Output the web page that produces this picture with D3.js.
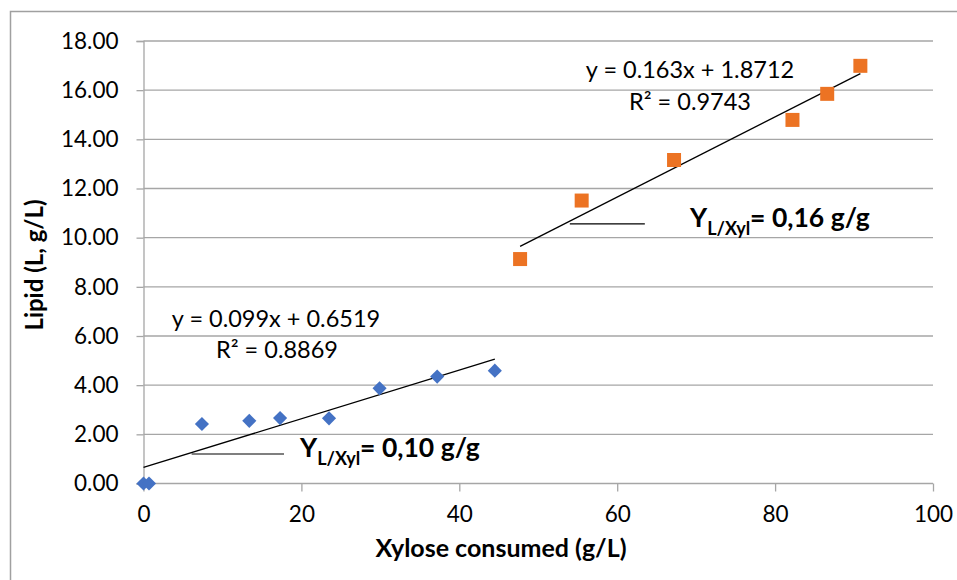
<!DOCTYPE html>
<html>
<head>
<meta charset="utf-8">
<script src="https://cdn.jsdelivr.net/npm/d3@7"></script>
<style>
  body { margin: 0; background: #fff; }
  svg { font-family: Lato, "Open Sans", sans-serif; }
</style>
</head>
<body>
<svg id="chart" width="957" height="580"></svg>
<script>
// values
const xylBlue = [0, 0.7, 7.4, 13.4, 17.3, 23.5, 29.9, 37.2, 44.5];
const lipBlue = [0, 0, 2.42, 2.55, 2.66, 2.65, 3.87, 4.35, 4.59];
const xylOrange = [47.7, 55.5, 67.2, 82.2, 86.6, 90.8];
const lipOrange = [9.13, 11.51, 13.16, 14.79, 15.85, 16.99];
const fitSlope = [0.099, 0.163];
const fitIntercept = [0.6519, 1.8712];
const fitText = ['y = 0.099x + 0.6519', 'y = 0.163x + 1.8712'];
const r2Text = ['R² = 0.8869', 'R² = 0.9743'];
const yieldText = ['0,10 g/g', '0,16 g/g'];
const xTicks = [0, 20, 40, 60, 80, 100];
const yTicks = [0, 2, 4, 6, 8, 10, 12, 14, 16, 18];

const svg = d3.select('#chart');
const gridColor = '#a6a6a6';

const x = d3.scaleLinear().domain([0, 100]).range([143.5, 933]);
const y = d3.scaleLinear().domain([0, 18]).range([483.5, 41]);

// chart border (left and top visible)
svg.append('path')
  .attr('d', 'M10.5,580 V11.5 H957')
  .attr('fill', 'none')
  .attr('stroke', '#a0a0a0')
  .attr('stroke-width', 1.5);

// horizontal gridlines
svg.append('g')
  .selectAll('line')
  .data(yTicks.slice(1))
  .join('line')
  .attr('x1', x(0)).attr('x2', x(100))
  .attr('y1', d => y(d)).attr('y2', d => y(d))
  .attr('stroke', gridColor)
  .attr('stroke-width', 1.3);

// y axis
const yAxis = svg.append('g')
  .attr('transform', `translate(${x(0)},0)`)
  .call(d3.axisLeft(y).tickValues(yTicks).tickFormat(d3.format('.2f')).tickSize(7).tickPadding(18));
// x axis
const xAxis = svg.append('g')
  .attr('transform', `translate(0,${y(0)})`)
  .call(d3.axisBottom(x).tickValues(xTicks).tickSize(8).tickPadding(15));

[yAxis, xAxis].forEach(a => {
  a.select('.domain').attr('stroke', gridColor).attr('stroke-width', 1.3);
  a.selectAll('.tick line').attr('stroke', gridColor).attr('stroke-width', 1.3);
  a.selectAll('.tick text')
    .attr('fill', '#000')
    .style('font-size', '22.5px')
    .style('font-family', 'Lato, sans-serif');
});
xAxis.select('.domain').attr('d', `M${x(0)},0H${x(100)}`);

// axis titles
svg.append('text')
  .attr('x', 501).attr('y', 557)
  .attr('text-anchor', 'middle')
  .style('font-size', '25px').style('font-weight', 'bold')
  .text('Xylose consumed (g/L)');
svg.append('text')
  .attr('transform', 'translate(43,265) rotate(-90)')
  .attr('text-anchor', 'middle')
  .style('font-size', '24px').style('font-weight', 'bold')
  .text('Lipid (L, g/L)');

// trendlines
const series = [
  { xs: xylBlue, ys: lipBlue },
  { xs: xylOrange, ys: lipOrange }
];
series.forEach((s, i) => {
  const [x0, x1] = d3.extent(s.xs);
  svg.append('line')
    .attr('x1', x(x0)).attr('y1', y(fitSlope[i] * x0 + fitIntercept[i]))
    .attr('x2', x(x1)).attr('y2', y(fitSlope[i] * x1 + fitIntercept[i]))
    .attr('stroke', '#000')
    .attr('stroke-width', 1.3);
});

// blue diamonds
svg.append('g')
  .selectAll('path')
  .data(d3.zip(xylBlue, lipBlue))
  .join('path')
  .attr('d', d3.symbol(d3.symbolSquare, 100))
  .attr('transform', d => `translate(${x(d[0])},${y(d[1])}) rotate(45)`)
  .attr('fill', '#4472c4');

// orange squares
svg.append('g')
  .selectAll('path')
  .data(d3.zip(xylOrange, lipOrange))
  .join('path')
  .attr('d', d3.symbol(d3.symbolSquare, 196))
  .attr('transform', d => `translate(${x(d[0])},${y(d[1])})`)
  .attr('fill', '#ec7323');

// trendline labels
const labelPos = [
  { eq: [276, 327], r2: [277, 358], line: [6.1, 17.8, 1.2], yl: [300, 457] },
  { eq: [690, 78], r2: [690, 110], line: [54.0, 63.5, 10.56], yl: [690, 227] }
];
labelPos.forEach((p, i) => {
  svg.append('text')
    .attr('x', p.eq[0]).attr('y', p.eq[1])
    .attr('text-anchor', 'middle')
    .style('font-size', '23.5px')
    .text(fitText[i]);
  svg.append('text')
    .attr('x', p.r2[0]).attr('y', p.r2[1])
    .attr('text-anchor', 'middle')
    .style('font-size', '23.5px')
    .text(r2Text[i]);
  svg.append('line')
    .attr('x1', x(p.line[0])).attr('x2', x(p.line[1]))
    .attr('y1', y(p.line[2])).attr('y2', y(p.line[2]))
    .attr('stroke', '#000').attr('stroke-width', 1.2);
  const t = svg.append('text')
    .attr('x', p.yl[0]).attr('y', p.yl[1])
    .style('font-weight', 'bold')
    .style('font-size', '26.5px');
  t.append('tspan').text('Y');
  t.append('tspan').attr('dy', 8).style('font-size', '18px').text('L/Xyl');
  t.append('tspan').attr('dy', -8).text('= ' + yieldText[i]);
});
</script>
</body>
</html>
